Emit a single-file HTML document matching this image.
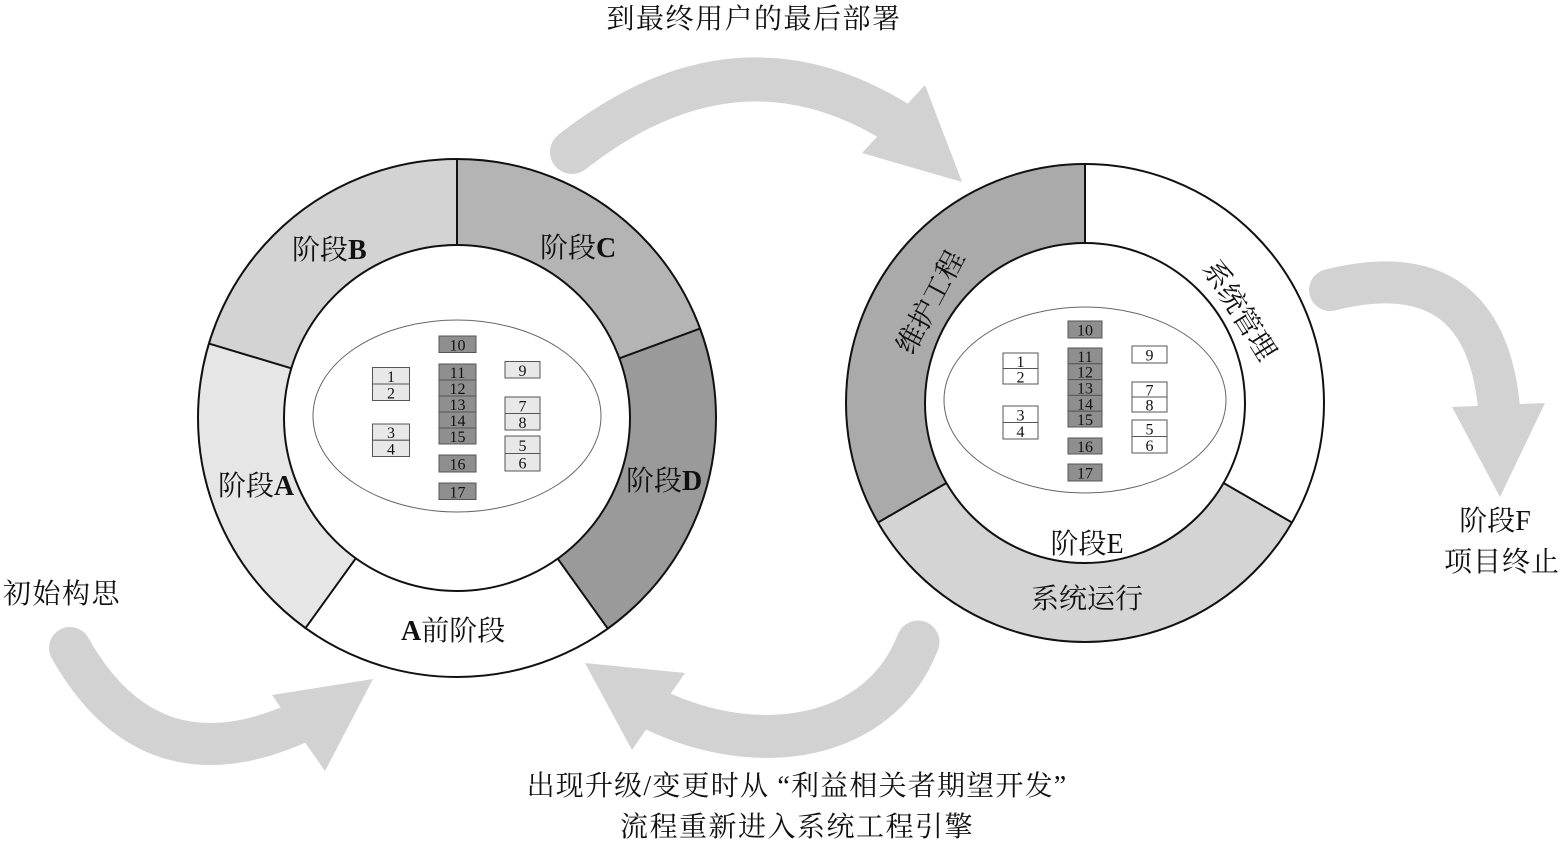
<!DOCTYPE html>
<html><head><meta charset="utf-8"><style>
html,body{margin:0;padding:0;background:#fff;}
svg{display:block;}
text{font-family:"Liberation Serif","Noto Serif CJK SC","Noto Sans CJK SC",serif;fill:#111;}
.bx{font-size:16px;text-anchor:middle;}
.lb{font-size:28px;}
</style></head><body>
<svg id="s" width="1563" height="841" viewBox="0 0 1563 841" xmlns="http://www.w3.org/2000/svg">
<g id="segs"></g>
<circle cx="457" cy="418" r="259" fill="none" stroke="#111" stroke-width="2"/>
<circle cx="457" cy="418" r="173" fill="#fff" stroke="#111" stroke-width="2"/>
<ellipse cx="457" cy="416" rx="144" ry="96" fill="none" stroke="#666" stroke-width="1"/>
<circle cx="1085" cy="403" r="239" fill="none" stroke="#111" stroke-width="2"/>
<circle cx="1085" cy="403" r="160" fill="#fff" stroke="#111" stroke-width="2"/>
<ellipse cx="1085" cy="400" rx="141" ry="93" fill="none" stroke="#666" stroke-width="1"/>
<g id="lines" stroke="#111" stroke-width="2"></g>

<g fill="#d2d2d2" stroke="none">
<path d="M572,152 Q 740,20 905,128" fill="none" stroke="#d2d2d2" stroke-width="44" stroke-linecap="round"/>
<polygon points="962,182 925,85 862,153"/>
<path d="M70,648 Q 150,790 300,722" fill="none" stroke="#d2d2d2" stroke-width="42" stroke-linecap="round"/>
<polygon points="373,679 272,695 325,771"/>
<path d="M918,642 C 880,740 760,760 655,710" fill="none" stroke="#d2d2d2" stroke-width="43" stroke-linecap="round"/>
<polygon points="585,663 685,673 632,750"/>
<path d="M1330,290 Q 1490,250 1500,420" fill="none" stroke="#d2d2d2" stroke-width="42" stroke-linecap="round"/>
<polygon points="1452,407 1545,403 1500,497"/>
</g>

<g id="boxes" stroke="#555" stroke-width="1"></g>

<text class="lb" x="292" y="259">阶段<tspan font-weight="bold">B</tspan></text>
<text class="lb" x="540" y="257">阶段<tspan font-weight="bold">C</tspan></text>
<text class="lb" x="626" y="490">阶段<tspan font-weight="bold">D</tspan></text>
<text class="lb" x="218" y="495">阶段<tspan font-weight="bold">A</tspan></text>
<text class="lb" x="401" y="640"><tspan font-weight="bold">A</tspan>前阶段</text>
<text class="lb" x="1087" y="553" text-anchor="middle">阶段E</text>
<text class="lb" x="1087" y="608" text-anchor="middle">系统运行</text>
<text class="lb" text-anchor="middle" transform="translate(930,302) rotate(-62)" y="10">维护工程</text>
<text class="lb" text-anchor="middle" transform="translate(1240,310) rotate(58)" y="10">系统管理</text>
<text class="lb" x="754" y="28" text-anchor="middle" letter-spacing="1.5">到最终用户的最后部署</text>
<text class="lb" x="3" y="603" letter-spacing="1.5">初始构思</text>
<text class="lb" x="1495" y="530" text-anchor="middle">阶段F</text>
<text class="lb" x="1502" y="571" text-anchor="middle" letter-spacing="1">项目终止</text>
<text class="lb" x="797" y="795" text-anchor="middle" letter-spacing="1.2">出现升级/变更时从 “利益相关者期望开发”</text>
<text class="lb" x="797" y="836" text-anchor="middle" letter-spacing="1.5">流程重新进入系统工程引擎</text>
</svg>
<script>
(function(){
var NS="http://www.w3.org/2000/svg";
var segs=document.getElementById('segs'),lines=document.getElementById('lines'),boxes=document.getElementById('boxes');
function P(cx,cy,r,a){a=a*Math.PI/180;return [cx+r*Math.cos(a),cy+r*Math.sin(a)];}
function sector(cx,cy,R,a1,a2,fill){
  var p1=P(cx,cy,R,a1),p2=P(cx,cy,R,a2),large=(a2-a1)>180?1:0;
  var p=document.createElementNS(NS,'path');
  p.setAttribute('d','M'+cx+','+cy+' L'+p1[0]+','+p1[1]+' A'+R+','+R+' 0 '+large+' 1 '+p2[0]+','+p2[1]+' Z');
  p.setAttribute('fill',fill);segs.appendChild(p);
}
function line(cx,cy,r,R,a){
  var p1=P(cx,cy,r,a),p2=P(cx,cy,R,a);
  var l=document.createElementNS(NS,'line');
  l.setAttribute('x1',p1[0]);l.setAttribute('y1',p1[1]);l.setAttribute('x2',p2[0]);l.setAttribute('y2',p2[1]);
  lines.appendChild(l);
}
var L=[[-90,-20.2,'#b4b4b4'],[-20.2,54.4,'#9a9a9a'],[54.4,125.8,'#ffffff'],[125.8,196.7,'#e6e6e6'],[196.7,270,'#d3d3d3']];
L.forEach(function(s){sector(457,418,259,s[0],s[1],s[2]);line(457,418,173,259,s[0]);});
var Rr=[[150,270,'#aaaaaa'],[-90,30,'#ffffff'],[30,150,'#d4d4d4']];
Rr.forEach(function(s){sector(1085,403,239,s[0],s[1],s[2]);line(1085,403,160,239,s[0]);});
function box(x,y,w,h,fill,label){
  var r=document.createElementNS(NS,'rect');
  r.setAttribute('x',x);r.setAttribute('y',y);r.setAttribute('width',w);r.setAttribute('height',h);r.setAttribute('fill',fill);
  boxes.appendChild(r);
  var t=document.createElementNS(NS,'text');
  t.setAttribute('class','bx');t.setAttribute('x',x+w/2);t.setAttribute('y',y+h/2+6);t.setAttribute('stroke','none');
  t.textContent=label;boxes.appendChild(t);
}
function stack(x,y1,y2,w,fill,labels){var h=(y2-y1)/labels.length;labels.forEach(function(l,i){box(x,y1+i*h,w,h,fill,l);});}
var D='#8f8f8f',Lt='#e8e8e8';
stack(439,336,352.5,37,D,['10']);
stack(439,364,444,37,D,['11','12','13','14','15']);
stack(439,455,472,37,D,['16']);
stack(439,483,499.5,37,D,['17']);
stack(372.5,367.5,400.5,37,Lt,['1','2']);
stack(372.5,424,456.5,37,Lt,['3','4']);
stack(505,361.5,378,35,Lt,['9']);
stack(505,397,430,35,Lt,['7','8']);
stack(505,436,471,35,Lt,['5','6']);
var W='#ffffff';
stack(1068,321,338,34,D,['10']);
stack(1068,348,427,34,D,['11','12','13','14','15']);
stack(1068,438,454,34,D,['16']);
stack(1068,464,481,34,D,['17']);
stack(1003,353,384,35,W,['1','2']);
stack(1003,406,439,35,W,['3','4']);
stack(1132,346,363,35,W,['9']);
stack(1132,382,412,35,W,['7','8']);
stack(1132,420,453,35,W,['5','6']);
})();
</script>
</body></html>
